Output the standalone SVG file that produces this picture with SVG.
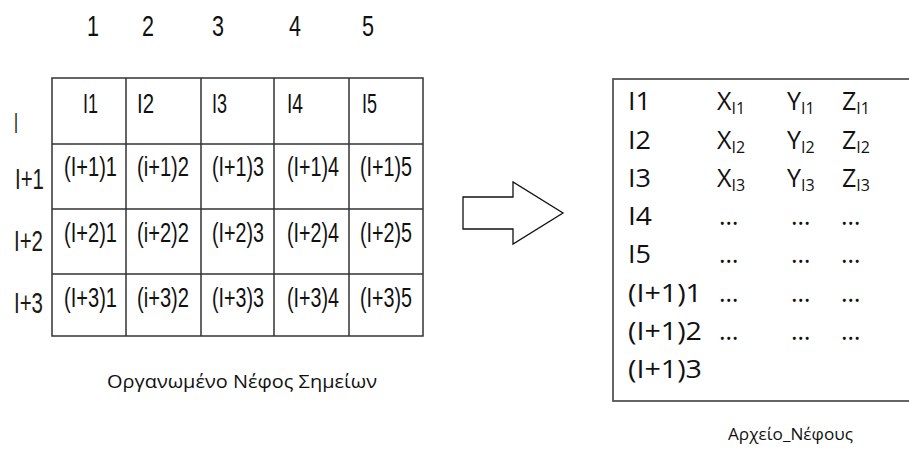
<svg xmlns="http://www.w3.org/2000/svg" width="909" height="450" viewBox="0 0 909 450">
<style>
.g{font-family:"Liberation Sans",Arial,sans-serif;font-size:28px;fill:#111}
.h{font-family:"Liberation Sans",Arial,sans-serif;font-size:30px;fill:#111}
.r{font-family:"Liberation Sans",Arial,sans-serif;font-size:29px;fill:#1e1914}
.t{font-family:"Open Sans","Liberation Sans",sans-serif;font-size:25px;fill:#111}
.s{font-family:"Open Sans","Liberation Sans",sans-serif;font-size:16px;fill:#111}
.c{font-family:"Open Sans","Liberation Sans",sans-serif;font-size:18px;fill:#111}
.line{stroke:#333;stroke-width:1.5;fill:none}
</style>
<rect width="909" height="450" fill="#fff"/>
<g id="column-headers" class="h">
<text x="87" y="36" textLength="12" lengthAdjust="spacingAndGlyphs">1</text>
<text x="142" y="36" textLength="12" lengthAdjust="spacingAndGlyphs">2</text>
<text x="212" y="36" textLength="12" lengthAdjust="spacingAndGlyphs">3</text>
<text x="289" y="36" textLength="12" lengthAdjust="spacingAndGlyphs">4</text>
<text x="362" y="36" textLength="12" lengthAdjust="spacingAndGlyphs">5</text>
</g>
<g id="row-labels" class="r">
<text x="14" y="133" textLength="4" lengthAdjust="spacingAndGlyphs">I</text>
<text x="15" y="189" textLength="29" lengthAdjust="spacingAndGlyphs">I+1</text>
<text x="14" y="251" textLength="29" lengthAdjust="spacingAndGlyphs">I+2</text>
<text x="14" y="313" textLength="29" lengthAdjust="spacingAndGlyphs">I+3</text>
</g>
<g id="grid">
<rect class="line" x="52" y="78" width="371" height="258"/>
<path class="line" d="M126 78V336M201 78V336M274 78V336M349 78V336M52 144H423M52 209H423M52 274H423"/>
<g class="g">
<text x="83" y="113" textLength="15" lengthAdjust="spacingAndGlyphs">I1</text>
<text x="137" y="113" textLength="17" lengthAdjust="spacingAndGlyphs">I2</text>
<text x="212" y="113" textLength="15" lengthAdjust="spacingAndGlyphs">I3</text>
<text x="287" y="113" textLength="16" lengthAdjust="spacingAndGlyphs">I4</text>
<text x="362" y="113" textLength="15" lengthAdjust="spacingAndGlyphs">I5</text>
<text x="64" y="176" textLength="53" lengthAdjust="spacingAndGlyphs">(I+1)1</text>
<text x="137" y="176" textLength="52" lengthAdjust="spacingAndGlyphs">(i+1)2</text>
<text x="212" y="176" textLength="52" lengthAdjust="spacingAndGlyphs">(I+1)3</text>
<text x="287" y="176" textLength="52" lengthAdjust="spacingAndGlyphs">(I+1)4</text>
<text x="360" y="176" textLength="52" lengthAdjust="spacingAndGlyphs">(I+1)5</text>
<text x="64" y="242" textLength="53" lengthAdjust="spacingAndGlyphs">(I+2)1</text>
<text x="137" y="242" textLength="52" lengthAdjust="spacingAndGlyphs">(i+2)2</text>
<text x="212" y="242" textLength="52" lengthAdjust="spacingAndGlyphs">(I+2)3</text>
<text x="287" y="242" textLength="52" lengthAdjust="spacingAndGlyphs">(I+2)4</text>
<text x="360" y="242" textLength="52" lengthAdjust="spacingAndGlyphs">(I+2)5</text>
<text x="64" y="307" textLength="53" lengthAdjust="spacingAndGlyphs">(I+3)1</text>
<text x="137" y="307" textLength="52" lengthAdjust="spacingAndGlyphs">(i+3)2</text>
<text x="212" y="307" textLength="52" lengthAdjust="spacingAndGlyphs">(I+3)3</text>
<text x="287" y="307" textLength="52" lengthAdjust="spacingAndGlyphs">(I+3)4</text>
<text x="360" y="307" textLength="52" lengthAdjust="spacingAndGlyphs">(I+3)5</text>
</g>
</g>
<g id="grid-caption" class="c"><text x="107" y="388" textLength="270" lengthAdjust="spacingAndGlyphs">Οργανωμένο Νέφος Σημείων</text></g>
<g id="connectors">
<path d="M463 197H513V182L563 213L513 244V229H463Z" fill="#fff" stroke="#111" stroke-width="1.3" stroke-linejoin="miter"/>
</g>
<g id="cloud-file">
<rect x="613" y="79" width="300" height="322" fill="#fff" stroke="#555" stroke-width="1.8"/>
<g class="t">
<text x="628" y="110" textLength="23" lengthAdjust="spacingAndGlyphs">I1</text>
<text x="628" y="149" textLength="23" lengthAdjust="spacingAndGlyphs">I2</text>
<text x="628" y="187" textLength="23" lengthAdjust="spacingAndGlyphs">I3</text>
<text x="628" y="225" textLength="24" lengthAdjust="spacingAndGlyphs">I4</text>
<text x="628" y="263" textLength="23" lengthAdjust="spacingAndGlyphs">I5</text>
<text x="628" y="302" textLength="74" lengthAdjust="spacingAndGlyphs">(I+1)1</text>
<text x="628" y="340" textLength="74" lengthAdjust="spacingAndGlyphs">(I+1)2</text>
<text x="628" y="378" textLength="74" lengthAdjust="spacingAndGlyphs">(I+1)3</text>
<text x="717" y="110">X<tspan class="s" dy="4">I1</tspan></text>
<text x="787" y="110">Y<tspan class="s" dy="4">I1</tspan></text>
<text x="842" y="110">Z<tspan class="s" dy="4">I1</tspan></text>
<text x="717" y="149">X<tspan class="s" dy="4">I2</tspan></text>
<text x="787" y="149">Y<tspan class="s" dy="4">I2</tspan></text>
<text x="842" y="149">Z<tspan class="s" dy="4">I2</tspan></text>
<text x="717" y="187">X<tspan class="s" dy="4">I3</tspan></text>
<text x="787" y="187">Y<tspan class="s" dy="4">I3</tspan></text>
<text x="842" y="187">Z<tspan class="s" dy="4">I3</tspan></text>
<text x="719" y="225">…</text><text x="791" y="225">…</text><text x="841" y="225">…</text>
<text x="719" y="263">…</text><text x="791" y="263">…</text><text x="841" y="263">…</text>
<text x="719" y="302">…</text><text x="791" y="302">…</text><text x="841" y="302">…</text>
<text x="719" y="340">…</text><text x="791" y="340">…</text><text x="841" y="340">…</text>
</g>
</g>
<g id="file-caption" class="c"><text x="728" y="440" font-size="17" textLength="125" lengthAdjust="spacingAndGlyphs">Αρχείο_Νέφους</text></g>
</svg>
